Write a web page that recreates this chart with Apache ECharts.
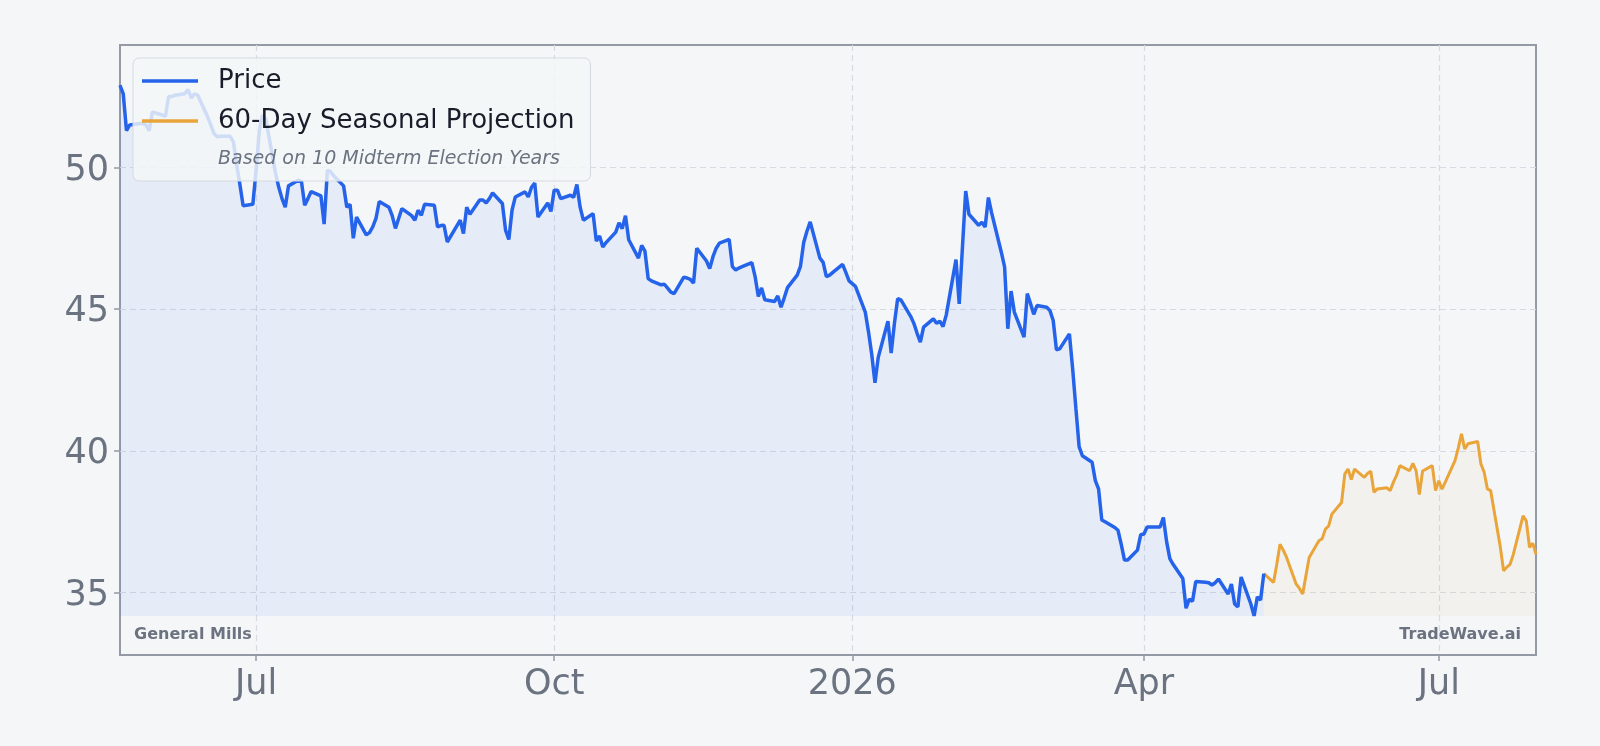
<!DOCTYPE html>
<html>
<head>
<meta charset="utf-8">
<script src="https://cdn.jsdelivr.net/npm/echarts@6/dist/echarts.min.js"></script>
<style>
  html, body { margin: 0; padding: 0; background: #f4f6f8; }
  #chart { width: 1600px; height: 746px; }
</style>
</head>
<body>
<div id="chart"></div>
<script>
// first trading day of the price history (weekdays from here on)
const priceStart = [2025, 5, 20]

// daily closes, one per weekday
const priceValues = [
  52.9, 52.6, 51.3, 51.5,
  51.55, 51.55, 51.5, 51.3, 51.96,
  51.85, 51.8, 52.5, 52.5, 52.55,
  52.6, 52.75, 52.45, 52.6, 52.55,
  51.8, 51.5, 51.2, 51.08, 51.1,
  51.1, 50.9, 50.1, 49.4, 48.65,
  48.7, 49.9, 51.3, 51.85, 51.7,
  49.8, 49.3, 48.9, 48.6, 49.35,
  49.55, 49.5, 48.67, 48.9, 49.15,
  49.0, 48.0, 49.9, 49.85, 49.7,
  49.35, 48.6, 48.7, 47.5, 48.25,
  47.62, 47.7, 47.9, 48.2, 48.8,
  48.6, 48.3, 47.85, 48.2, 48.55,
  48.3, 48.14, 48.49, 48.31, 48.7,
  48.67, 47.9, 47.95, 47.96, 47.37,
  47.95, 48.14, 47.67, 48.6, 48.35,
  48.85, 48.85, 48.75, 48.9, 49.1,
  48.73, 47.78, 47.46, 48.5, 48.96,
  49.14, 48.96, 49.3, 49.45, 48.25,
  48.75, 48.45, 49.2, 49.2, 48.9,
  49.02, 48.95, 49.4, 48.6, 48.14,
  48.37, 47.4, 47.58, 47.19, 47.35,
  47.72, 48.05, 47.84, 48.3, 47.45,
  46.8, 47.25, 47.05, 46.08, 46.0,
  45.86, 45.88, 45.74, 45.6, 45.55,
  46.13, 46.1, 46.05, 45.92, 47.15,
  46.7, 46.43, 46.85, 47.15, 47.33,
  47.46, 46.5, 46.38, 46.45, 46.5,
  46.64, 46.15, 45.45, 45.75, 45.33,
  45.27, 45.47, 45.07, 45.4, 45.76,
  46.2, 46.51, 47.35, 47.75, 48.08,
  46.8, 46.65, 46.15, 46.2, 46.3,
  46.58, 46.3, 46.0, 45.9, 45.8,
  44.9, 44.2, 43.4, 42.4, 43.3,
  44.58, 43.45, 44.5, 45.37, 45.33,
  44.75, 44.5, 44.15, 43.84, 44.37,
  44.66, 44.5, 44.58, 44.39, 44.8,
  46.75, 45.19, 47.2, 49.17, 48.35,
  47.96, 48.07, 47.9, 48.94, 48.4,
  47.0, 46.49, 44.31, 45.64, 44.9,
  44.01, 45.55, 45.2, 44.82, 45.13,
  45.07, 44.95, 44.6, 43.57, 43.6,
  44.13, 42.9, 41.5, 40.15, 39.83,
  39.6, 38.95, 38.66, 37.56, 37.5,
  37.3, 37.2, 36.7, 36.15, 36.15,
  36.5, 37.04, 37.07, 37.32, 37.32,
  37.32, 37.65, 36.8, 36.2, 36.0,
  35.5, 34.45, 34.77, 34.7, 35.39,
  35.37, 35.35, 35.27, 35.35, 35.48,
  34.95, 35.3, 34.6, 34.5, 35.55,
  34.6, 34.18, 34.85, 34.74, 35.67
]

// 60 trading days ahead, first value joins the last close
const projectionValues = [
  35.67,
  35.36, 36.0, 36.71, 36.5, 36.25,
  35.3, 35.15, 34.95, 35.6, 36.24,
  36.83, 36.9, 37.24, 37.35, 37.77,
  38.18, 39.19, 39.36, 38.99, 39.36,
  39.07, 39.2, 39.28, 38.54, 38.66,
  38.7, 38.6, 38.9, 39.15, 39.48,
  39.3, 39.56, 39.3, 38.46, 39.29,
  39.48, 38.6, 38.95, 38.65, 38.9,
  39.66, 40.1, 40.6, 40.07, 40.25,
  40.33, 39.54, 39.25, 38.66, 38.6,
  36.6, 35.77, 35.9, 36.0, 36.35,
  37.71, 37.53, 36.6, 36.74, 36.36
]

const xTickDates = [[2025, 7, 1], [2025, 10, 1], [2026, 1, 1], [2026, 4, 1], [2026, 7, 1]]
const yTicks = [35, 40, 45, 50]
const monthNames = ['Jan', 'Feb', 'Mar', 'Apr', 'May', 'Jun', 'Jul', 'Aug', 'Sep', 'Oct', 'Nov', 'Dec']

// weekday calendar
function weekdays(from, count) {
  const out = []
  const d = new Date(from.getTime())
  while (out.length < count) {
    const wd = d.getDay()
    if (wd !== 0 && wd !== 6) out.push(d.getTime())
    d.setDate(d.getDate() + 1)
  }
  return out
}

const startDate = new Date(priceStart[0], priceStart[1] - 1, priceStart[2])
const priceDates = weekdays(startDate, priceValues.length)
const lastDate = new Date(priceDates[priceDates.length - 1])
const nextDay = new Date(lastDate.getTime())
nextDay.setDate(nextDay.getDate() + 1)
const projDates = [lastDate.getTime()].concat(weekdays(nextDay, projectionValues.length - 1))

const priceData = priceDates.map((t, i) => [t, priceValues[i]])
const projData = projDates.map((t, i) => [t, projectionValues[i]])
const baseLine = Math.min(...priceValues)
const xTicks = xTickDates.map((d) => new Date(d[0], d[1] - 1, d[2]).getTime())

const font = '"DejaVu Sans", sans-serif'
const axisColor = '#9499a6'
const labelColor = '#6b7280'
const gridLine = { show: true, lineStyle: { color: '#d6dae1', width: 1.2, type: [6, 4] } }

const chart = echarts.init(document.getElementById('chart'))
chart.setOption({
  animation: false,
  backgroundColor: '#f4f6f8',
  textStyle: { fontFamily: font },
  grid: {
    left: 120, right: 64, top: 45, bottom: 91,
    show: true, borderColor: axisColor, borderWidth: 2, backgroundColor: 'transparent'
  },
  xAxis: {
    type: 'value',
    min: priceDates[0],
    max: projDates[projDates.length - 1],
    axisLine: { show: false },
    axisTick: { show: true, length: 6, lineStyle: { color: axisColor, width: 1.5 }, customValues: xTicks },
    axisLabel: {
      customValues: xTicks,
      fontSize: 35, color: labelColor, margin: 12, fontFamily: font,
      formatter: (v) => {
        const d = new Date(v)
        return d.getMonth() === 0 ? String(d.getFullYear()) : monthNames[d.getMonth()]
      }
    },
    splitLine: gridLine
  },
  yAxis: {
    type: 'value',
    min: 32.8,
    max: 54.32,
    axisLine: { show: false },
    axisTick: { show: true, length: 6, lineStyle: { color: axisColor, width: 1.5 }, customValues: yTicks },
    axisLabel: {
      customValues: yTicks,
      margin: 11,
      // nudge the numbers down a little
      formatter: (v) => '{n|' + v + '}',
      rich: { n: { fontSize: 35, color: labelColor, fontFamily: font, padding: [6, 0, 0, 0] } }
    },
    splitLine: gridLine
  },
  legend: {
    orient: 'vertical',
    left: 133, top: 58,
    padding: [8, 16, 45, 9],
    itemGap: 10,
    itemWidth: 56, itemHeight: 3.5,
    icon: 'rect',
    backgroundColor: 'rgba(244,246,248,0.82)',
    borderColor: '#d5d9e0', borderWidth: 1, borderRadius: 6,
    textStyle: { fontSize: 26, color: '#1a1d29', lineHeight: 30, padding: [0, 0, 0, 15], fontFamily: font },
    data: ['Price', '60-Day Seasonal Projection']
  },
  graphic: [
    {
      type: 'text', left: 218, top: 150, z: 100,
      style: { text: 'Based on 10 Midterm Election Years', font: 'italic 19px "DejaVu Sans"', fill: labelColor }
    },
    {
      type: 'text', left: 134, top: 627, z: 100,
      style: { text: 'General Mills', font: 'bold 16px "DejaVu Sans"', fill: labelColor }
    },
    {
      type: 'text', right: 79, top: 627, z: 100,
      style: { text: 'TradeWave.ai', font: 'bold 16px "DejaVu Sans"', fill: labelColor }
    }
  ],
  series: [
    {
      name: 'Price',
      type: 'line',
      data: priceData,
      showSymbol: false,
      color: '#2563eb',
      lineStyle: { width: 3.5, color: '#2563eb' },
      areaStyle: { origin: baseLine, color: 'rgba(59,130,246,0.11)' },
      z: 3
    },
    {
      name: '60-Day Seasonal Projection',
      type: 'line',
      data: projData,
      showSymbol: false,
      color: '#e9a53a',
      lineStyle: { width: 3, color: '#e9a53a' },
      areaStyle: { origin: baseLine, color: 'rgba(232,163,56,0.08)' },
      z: 2
    }
  ]
})
</script>
</body>
</html>
